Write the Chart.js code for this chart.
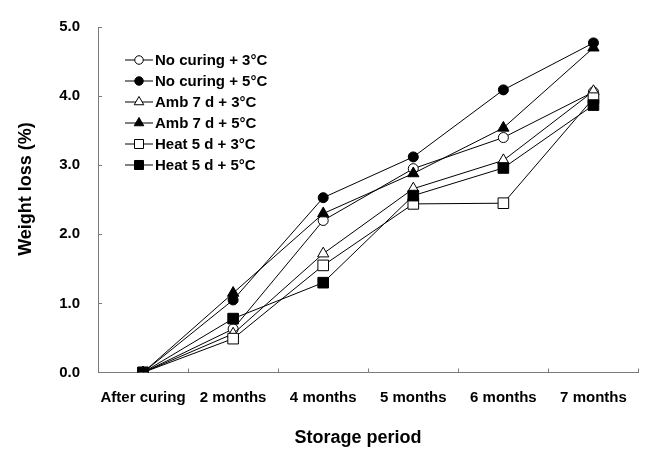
<!DOCTYPE html>
<html>
<head>
<meta charset="utf-8">
<script src="https://cdn.jsdelivr.net/npm/chart.js"></script>
<style>
  html, body { margin: 0; padding: 0; background: #fff; }
  #wrap { width: 647px; height: 450px; }
</style>
</head>
<body>
<div id="wrap"><canvas id="weight-loss-chart"></canvas></div>
<script>
/* data */
let periods = ['After curing', '2 months', '4 months', '5 months', '6 months', '7 months']
let yTicks = [0, 1, 2, 3, 4, 5]

let noCuring3 = [0, 0.63, 2.20, 2.95, 3.40, 4.06]
let noCuring5 = [0, 1.05, 2.53, 3.12, 4.09, 4.77]
let amb3 = [0, 0.56, 1.72, 2.66, 3.07, 4.07]
let amb5 = [0, 1.15, 2.30, 2.88, 3.54, 4.70]
let heat3 = [0, 0.49, 1.55, 2.44, 2.45, 3.97]
let heat5 = [0, 0.78, 1.30, 2.56, 2.96, 3.87]

let seriesNames = ['No curing + 3\u00B0C', 'No curing + 5\u00B0C', 'Amb 7 d + 3\u00B0C',
                   'Amb 7 d + 5\u00B0C', 'Heat 5 d + 3\u00B0C', 'Heat 5 d + 5\u00B0C']

let xTitle = 'Storage period'
let yTitle = 'Weight loss (%)'

let axisGrey = '#7a7a7a'
let fontFamily = "'Liberation Sans', Arial, sans-serif"

// builds one dataset with black line and open/filled marker
function makeSeries(label, data, style, filled, radius, order) {
    return {
        label: label,
        data: data,
        order: order,
        borderColor: '#000',
        borderWidth: 1,
        pointStyle: style,
        pointRadius: radius,
        pointHoverRadius: radius,
        pointBorderColor: '#000',
        pointBorderWidth: 1,
        pointBackgroundColor: filled ? '#000' : '#fff',
        tension: 0,
        fill: false
    }
}

// later series sit on top, like the original figure
let datasets = [
    makeSeries(seriesNames[0], noCuring3, 'circle', false, 5, 5),
    makeSeries(seriesNames[1], noCuring5, 'circle', true, 5, 4),
    makeSeries(seriesNames[2], amb3, 'triangle', false, 6.5, 3),
    makeSeries(seriesNames[3], amb5, 'triangle', true, 6.5, 2),
    makeSeries(seriesNames[4], heat3, 'rect', false, 7.5, 1),
    makeSeries(seriesNames[5], heat5, 'rect', true, 7.5, 0)
]

// draws a marker like the chart points (used by the legend)
function drawMarker(ctx, style, x, y, r) {
    ctx.beginPath()
    if (style === 'circle') {
        ctx.arc(x, y, r, 0, Math.PI * 2)
    } else if (style === 'triangle') {
        ctx.moveTo(x, y - r)
        ctx.lineTo(x + r * Math.sin(Math.PI * 2 / 3), y - r * Math.cos(Math.PI * 2 / 3))
        ctx.lineTo(x + r * Math.sin(Math.PI * 4 / 3), y - r * Math.cos(Math.PI * 4 / 3))
        ctx.closePath()
    } else {
        let s = r * Math.SQRT1_2
        ctx.rect(x - s, y - s, 2 * s, 2 * s)
    }
    ctx.fill()
    ctx.stroke()
}

// legend inside the plot, line + marker + bold text
let insideLegend = {
    id: 'insideLegend',
    afterDatasetsDraw(chart) {
        let ctx = chart.ctx
        let x0 = 125, y0 = 60, rowH = 21
        ctx.save()
        ctx.font = 'bold 15px ' + fontFamily
        ctx.textBaseline = 'middle'
        ctx.textAlign = 'left'
        chart.data.datasets.forEach(function(ds, i) {
            let y = y0 + i * rowH
            ctx.strokeStyle = '#000'
            ctx.lineWidth = 1
            ctx.beginPath()
            ctx.moveTo(x0, y)
            ctx.lineTo(x0 + 28, y)
            ctx.stroke()
            ctx.fillStyle = ds.pointBackgroundColor
            drawMarker(ctx, ds.pointStyle, x0 + 14, y, ds.pointRadius * 0.85)
            ctx.fillStyle = '#000'
            ctx.fillText(ds.label, x0 + 30, y + 1)
        })
        ctx.restore()
    }
}

// small tick marks pointing into the plot, plus the two axis titles
let innerTicks = {
    id: 'innerTicks',
    afterDraw(chart) {
        let ctx = chart.ctx
        let xs = chart.scales.x
        let ys = chart.scales.y
        let area = chart.chartArea
        ctx.save()
        ctx.strokeStyle = axisGrey
        ctx.lineWidth = 1
        ctx.beginPath()
        let half = (xs.getPixelForValue(1) - xs.getPixelForValue(0)) / 2
        for (let i = 0; i < periods.length; i++) {
            let px = Math.round(xs.getPixelForValue(i) + half) + 0.5
            ctx.moveTo(px, area.bottom)
            ctx.lineTo(px, area.bottom - 4)
        }
        yTicks.forEach(function(v) {
            if (v === 0) return
            let py = Math.round(ys.getPixelForValue(v)) + 0.5
            ctx.moveTo(area.left, py)
            ctx.lineTo(area.left + 4, py)
        })
        ctx.stroke()

        ctx.fillStyle = '#000'
        ctx.font = 'bold 18px ' + fontFamily
        ctx.textAlign = 'center'
        ctx.textBaseline = 'middle'
        ctx.fillText(xTitle, 358, 438)
        ctx.translate(26, 189)
        ctx.rotate(-Math.PI / 2)
        ctx.fillText(yTitle, 0, 0)
        ctx.restore()
    }
}

let ctx = document.querySelector('#weight-loss-chart').getContext('2d')

let weightChart = new Chart(ctx, {
    type: 'line',
    data: { labels: periods, datasets: datasets },
    options: {
        responsive: true,
        maintainAspectRatio: false,
        animation: false,
        layout: { padding: { left: 0, right: 6, top: 20, bottom: 0 } },
        plugins: {
            legend: { display: false },
            tooltip: { enabled: false }
        },
        scales: {
            x: {
                offset: true,
                grid: { display: false, drawTicks: false },
                border: { display: true, color: axisGrey, width: 1 },
                ticks: {
                    color: '#000',
                    padding: 16,
                    maxRotation: 0,
                    autoSkip: false,
                    font: { family: fontFamily, size: 15, weight: 'bold' }
                },
                afterFit(scale) { scale.height = 77.5 }
            },
            y: {
                min: 0,
                max: 5,
                grid: { display: false, drawTicks: false },
                border: { display: true, color: axisGrey, width: 1 },
                ticks: {
                    color: '#000',
                    padding: 18,
                    stepSize: 1,
                    callback: function(v) { return yTicks.includes(v) ? v.toFixed(1) : '' },
                    font: { family: fontFamily, size: 15, weight: 'bold' }
                },
                afterFit(scale) { scale.width = 98 }
            }
        }
    },
    plugins: [insideLegend, innerTicks]
})
</script>
</body>
</html>
